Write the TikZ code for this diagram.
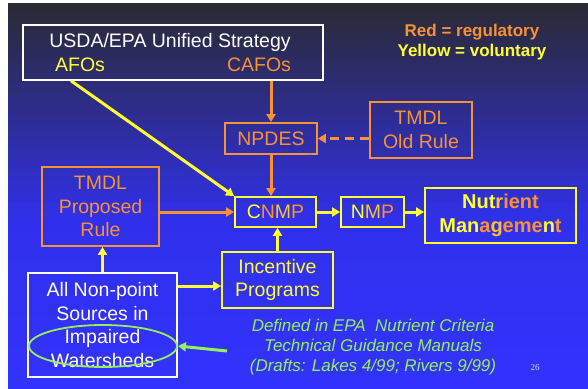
\documentclass[tikz,border=0pt]{standalone}
\usepackage{fontspec}
\setmainfont{Liberation Sans}
\newfontfamily\pagefont{Liberation Serif}
\usetikzlibrary{arrows.meta,positioning,shapes.geometric}

\definecolor{rulecol}{RGB}{250,145,50}
\definecolor{volcol}{RGB}{255,255,51}
\definecolor{notecol}{RGB}{150,240,90}
\definecolor{bgtop}{RGB}{42,42,50}
\definecolor{bgmid}{RGB}{48,48,235}
\definecolor{bgbot}{RGB}{50,50,255}

\newcommand{\ylw}[1]{\textcolor{volcol}{#1}}
\newcommand{\org}[1]{\textcolor{rulecol}{#1}}
\newcommand{\mixc}[1]{\textcolor{volcol!45!rulecol}{#1}}

\tikzset{
  box/.style={draw, line width=1.8pt, inner sep=0pt, align=center,
    font=\fontsize{19.5}{23.5}\selectfont},
  regbox/.style={box, draw=rulecol, text=rulecol},
  volbox/.style={box, draw=volcol, text=volcol},
  regline/.style={draw=rulecol, line width=3pt},
  volline/.style={draw=volcol, line width=3pt},
  noteline/.style={draw=notecol, line width=3pt},
  label/.style={inner sep=0pt, font=\fontsize{19.5}{23.5}\selectfont},
  legend/.style={inner sep=0pt, font=\bfseries\fontsize{17}{20}\selectfont}
}

\begin{document}
\begin{tikzpicture}[x=1pt, y=-1pt, >={Triangle[length=8pt,width=9pt]}, on grid]
  % background
  \fill[white] (0,0) rectangle (588,388);
  \shade[top color=bgtop, bottom color=bgmid] (8,3) rectangle (588,220.5);
  \shade[top color=bgmid, bottom color=bgbot] (8,220) rectangle (588,388);

  \node[volbox, minimum width=81pt, minimum height=30pt] (cnmp) at (275.5,212) {\ylw{C}\org{N}\mixc{M}\org{P}};
  \node[volbox, minimum width=63pt, minimum height=30pt] (nmp) [right=97pt of cnmp] {\ylw{N}\mixc{M}\org{P}};
  \node[volbox, minimum width=151pt, minimum height=55pt, font=\bfseries\fontsize{20}{24}\selectfont] (goal) [below right=3.5pt and 128pt of nmp]
    {\ylw{Nut}\mixc{r}\org{ient}\\\ylw{Man}\org{a}\mixc{g}\org{eme}\ylw{n}\org{t}};
  \node[regbox, minimum width=92pt, minimum height=31pt] (npdes) [above left=73.5pt and 4.5pt of cnmp] {NPDES};
  \node[regbox, minimum width=102pt, minimum height=56pt] (oldrule) [above right=8.5pt and 150pt of npdes] {TMDL\\Old Rule};
  \node[regbox, minimum width=117pt, minimum height=79pt] (proposed) [above left=5.5pt and 175pt of cnmp] {TMDL\\Proposed\\Rule};
  \node[volbox, minimum width=111pt, minimum height=56pt] (incentive) [below right=68pt and 2pt of cnmp] {Incentive\\Programs};
  \node[box, draw=white, text=white, line width=1.5pt, minimum width=149pt, minimum height=104pt] (nonpoint) [below right=118.5pt and 2pt of proposed]
    {All Non-point\\Sources in\\Impaired\\Watersheds};
  \node[draw=notecol, ellipse, line width=1.8pt, inner sep=0pt, minimum width=148pt, minimum height=42pt] (impaired) at (103,346) {};

  \node[box, draw=white, line width=1.5pt, minimum width=300pt, minimum height=55pt] (usda) [above left=86pt and 98pt of npdes] {};
  \node[label, text=white] (title) [above left=10.5pt and 3pt of usda] {USDA/EPA Unified Strategy};
  \node[label, text=volcol] (afos) [below left=12.5pt and 93pt of usda] {AFOs};
  \node[label, text=rulecol] (cafos) [below right=12.5pt and 86pt of usda] {CAFOs};

  \node[legend, text=rulecol] (regnote) at (472,32) {Red = regulatory};
  \node[legend, text=volcol] (volnote) [below=20pt of regnote] {Yellow = voluntary};

  \node[inner sep=0pt, align=center, text=notecol, font=\itshape\fontsize{17}{20}\selectfont] (manuals) at (373,347)
    {Defined in EPA\ \ Nutrient Criteria\\Technical Guidance Manuals\\(Drafts: Lakes 4/99; Rivers 9/99)};
  \node[inner sep=0pt, text=white!85!blue, font=\pagefont\fontsize{9}{10}\selectfont] (pagenum) at (535,368) {26};

  \coordinate (notetail) at (227,351);
  \coordinate (progin) at ([yshift=-6pt]incentive.west);
  \coordinate (afosfoot) at ([xshift=-9pt]afos |- usda.south);

  \path[->]
    (npdes |- usda.south) edge[regline] (npdes.north)
    (afosfoot) edge[volline] (cnmp.north west)
    (oldrule.west |- npdes.east) edge[regline, dash pattern=on 9pt off 6pt] (npdes.east)
    (npdes.south) edge[regline] (npdes.south |- cnmp.north)
    (cnmp.west -| proposed.east) edge[regline] (cnmp.west)
    (cnmp) edge[volline] (nmp)
    (nmp.east) edge[volline] (nmp.east -| goal.west)
    (incentive.north) edge[volline] (incentive.north |- cnmp.south)
    (progin -| nonpoint.east) edge[volline] (progin)
    (nonpoint.north) edge[volline] (nonpoint.north |- proposed.south)
    (notetail) edge[noteline] (impaired.east);
\end{tikzpicture}
\end{document}
